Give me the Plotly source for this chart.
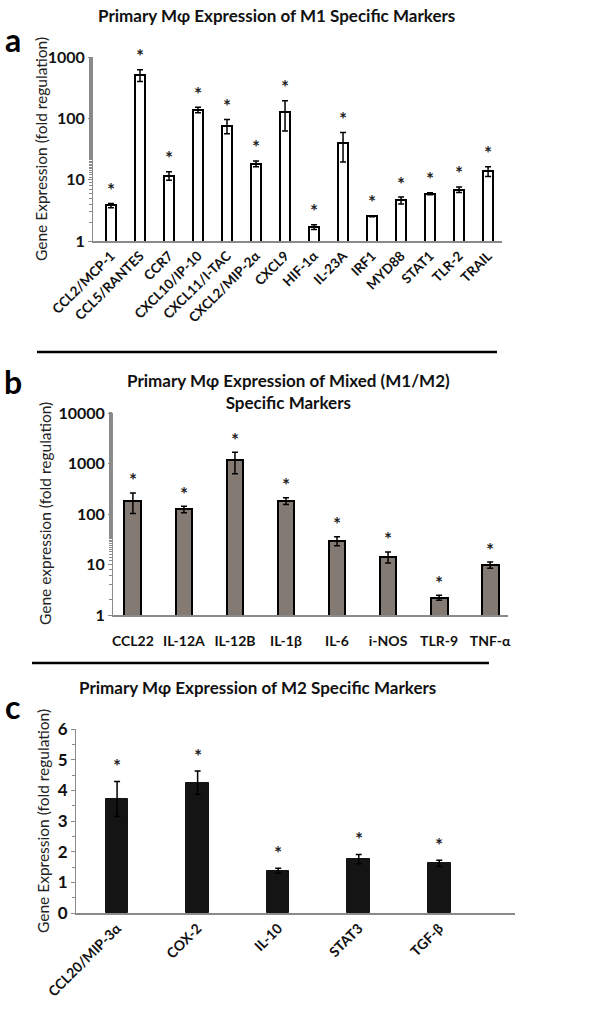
import numpy as np
import plotly.graph_objects as go

W, H = 601, 1020

# ---------------- data ----------------
a_labels = ["CCL2/MCP-1", "CCL5/RANTES", "CCR7", "CXCL10/IP-10", "CXCL11/I-TAC",
            "CXCL2/MIP-2α", "CXCL9", "HIF-1α", "IL-23A", "IRF1", "MYD88", "STAT1",
            "TLR-2", "TRAIL"]
a_values = [3.8, 510, 11.6, 137, 76, 18.2, 128, 1.69, 39, 2.53, 4.6, 5.9, 6.9, 13.8]
a_errors = [0.3, 110, 1.8, 14, 20, 2.0, 66, 0.15, 19.5, 0.05, 0.6, 0.2, 0.7, 2.5]

b_labels = ["CCL22", "IL-12A", "IL-12B", "IL-1β", "IL-6", "i-NOS", "TLR-9", "TNF-α"]
b_values = [182, 124, 1150, 182, 29.5, 14.2, 2.2, 9.8]
b_errors = [80, 18, 520, 28, 6, 3.5, 0.25, 1.4]

c_labels = ["CCL20/MIP-3α", "COX-2", "IL-10", "STAT3", "TGF-β"]
c_values = [3.72, 4.25, 1.38, 1.76, 1.62]
c_errors = [0.57, 0.38, 0.08, 0.15, 0.1]

a_title = "Primary Mφ Expression of M1 Specific Markers"
b_title = "Primary Mφ Expression of Mixed (M1/M2)<br>Specific Markers"
c_title = "Primary Mφ Expression of M2 Specific Markers"
a_ytitle = "Gene Expression (fold regulation)"
b_ytitle = "Gene expression (fold regulation)"
c_ytitle = "Gene Expression (fold regulation)"

FONT = "Lato"


def px_x(p):
    return p / W


def px_y(p):
    return 1 - p / H


fig = go.Figure()

err_style = dict(type="data", visible=True, color="black", thickness=1.5, width=3)

fig.add_trace(go.Bar(x=a_labels, y=a_values, xaxis="x", yaxis="y",
                     error_y=dict(array=a_errors, **err_style),
                     marker=dict(color="white", line=dict(color="black", width=2)),
                     width=0.36, showlegend=False))
fig.add_trace(go.Bar(x=b_labels, y=b_values, xaxis="x2", yaxis="y2",
                     error_y=dict(array=b_errors, **err_style),
                     marker=dict(color="#827a73", line=dict(color="black", width=2)),
                     width=0.33, showlegend=False))
fig.add_trace(go.Bar(x=c_labels, y=c_values, xaxis="x3", yaxis="y3",
                     error_y=dict(array=c_errors, **err_style),
                     marker=dict(color="#141414", line=dict(color="#141414", width=1)),
                     width=0.28, showlegend=False))

axis_col = "#8a8a8a"
tickfont = dict(family=FONT, size=16, color="#111", weight="bold")

common_x = dict(showline=True, linecolor=axis_col, linewidth=1.5, ticks="",
                showgrid=False, zeroline=False, type="category", automargin=False)
common_y = dict(showline=True, linecolor=axis_col, linewidth=1, ticks="outside",
                ticklen=4, tickcolor=axis_col, showgrid=False, zeroline=False,
                automargin=False)

fig.update_layout(
    width=W, height=H, margin=dict(l=0, r=0, t=0, b=0, pad=0, autoexpand=False),
    plot_bgcolor="white", paper_bgcolor="white", bargap=0,
    xaxis=dict(domain=[px_x(93), px_x(502)], anchor="y",
               range=[-0.62, 13.48], tickangle=-45,
               tickfont=dict(family=FONT, size=13.5, color="#111", weight="bold"), **common_x),
    yaxis=dict(domain=[px_y(241), px_y(57)], anchor="x", type="log", range=[0, 3],
               tickvals=[1, 10, 100, 1000], ticktext=["1", "10", "100", "1000"],
               minor=dict(ticks="outside", ticklen=3, tickcolor=axis_col, showgrid=False),
               tickfont=tickfont, **common_y),
    xaxis2=dict(domain=[px_x(113), px_x(508)], anchor="y2",
                range=[-0.39, 7.35], tickangle=0, ticklabelstandoff=12,
                tickfont=dict(family=FONT, size=14, color="#111", weight="bold"), **common_x),
    yaxis2=dict(domain=[px_y(615), px_y(413)], anchor="x2", type="log", range=[0, 4],
                tickvals=[1, 10, 100, 1000, 10000],
                ticktext=["1", "10", "100", "1000", "10000"],
                minor=dict(ticks="outside", ticklen=3, tickcolor=axis_col, showgrid=False),
                tickfont=tickfont, **common_y),
    xaxis3=dict(domain=[px_x(76), px_x(515)], anchor="y3",
                range=[-0.51, 4.94], tickangle=-45,
                tickfont=dict(family=FONT, size=14, color="#111", weight="bold"), **common_x),
    yaxis3=dict(domain=[px_y(913), px_y(729)], anchor="x3", range=[0, 6], dtick=1,
                minor=dict(ticks="outside", ticklen=3, tickcolor=axis_col, dtick=0.5, showgrid=False),
                tickfont=dict(family=FONT, size=17, color="#111", weight="bold"), **common_y),
)

annots = []
star_font = dict(family=FONT, size=19, color="#222", weight="bold")
for lab, v, e in zip(a_labels, a_values, a_errors):
    annots.append(dict(x=lab, y=np.log10(v + e), xref="x", yref="y", text="*",
                       showarrow=False, yshift=14, font=star_font))
for lab, v, e in zip(b_labels, b_values, b_errors):
    annots.append(dict(x=lab, y=np.log10(v + e), xref="x2", yref="y2", text="*",
                       showarrow=False, yshift=13, font=star_font))
for lab, v, e in zip(c_labels, c_values, c_errors):
    annots.append(dict(x=lab, y=v + e, xref="x3", yref="y3", text="*",
                       showarrow=False, yshift=16, font=star_font))

title_font = dict(family=FONT, size=17, color="#111", weight="bold")
letter_font = dict(family=FONT, size=32, color="black", weight="bold")
ytitle_font = dict(family=FONT, size=15.5, color="#222")
C = dict(xref="paper", yref="paper", showarrow=False, xanchor="center", yanchor="middle")
annots += [
    dict(x=px_x(276), y=px_y(16), text=a_title, font=title_font, **C),
    dict(x=px_x(288), y=px_y(392), text=b_title, font=title_font, **C),
    dict(x=px_x(257), y=px_y(687), text=c_title, font=title_font, **C),
    dict(x=px_x(13), y=px_y(40), text="a", font=letter_font, **C),
    dict(x=px_x(13), y=px_y(381), text="b", font=letter_font, **C),
    dict(x=px_x(12), y=px_y(706), text="c", font=letter_font, **C),
    dict(x=px_x(41), y=px_y(149), text=a_ytitle, textangle=-90, font=ytitle_font, **C),
    dict(x=px_x(45), y=px_y(514), text=b_ytitle, textangle=-90, font=ytitle_font, **C),
    dict(x=px_x(43), y=px_y(821), text=c_ytitle, textangle=-90, font=ytitle_font, **C),
]
fig.update_layout(annotations=annots)

fig.update_layout(shapes=[
    dict(type="line", xref="paper", yref="paper", x0=px_x(37), x1=px_x(497),
         y0=px_y(352), y1=px_y(352), line=dict(color="black", width=2.5)),
    dict(type="line", xref="paper", yref="paper", x0=px_x(32), x1=px_x(489),
         y0=px_y(663), y1=px_y(663), line=dict(color="black", width=2.5)),
])

fig.write_html("out.html", config={"displayModeBar": False},
               post_script="document.body.style.margin='0';")
